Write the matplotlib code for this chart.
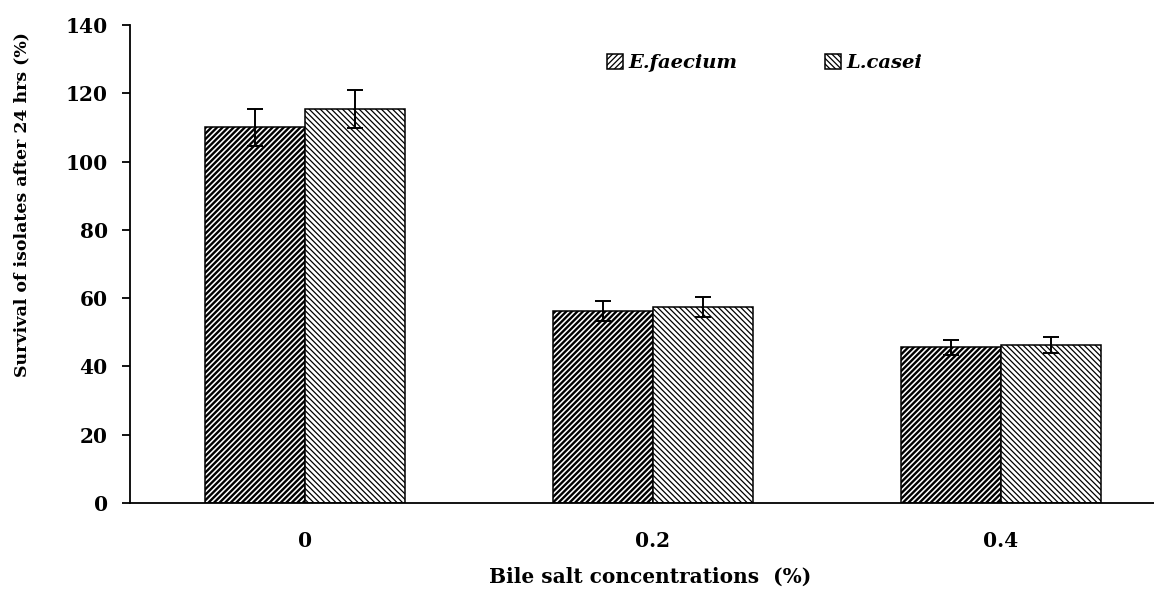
import matplotlib
matplotlib.use("Agg")
import matplotlib.pyplot as plt
import numpy as np

# bile salt tolerance data
concentrations = ["0", "0.2", "0.4"]
faecium_mean = [110.0, 56.2, 45.6]
faecium_err = [5.3, 3.0, 2.2]
casei_mean = [115.3, 57.4, 46.2]
casei_err = [5.6, 3.0, 2.3]

plt.rcParams['font.family'] = ['DejaVu Serif']
plt.rcParams['font.weight'] = 'bold'

fig = plt.figure(figsize=(11.54, 5.9), dpi=100)
ax = fig.add_axes([130/1154, 1 - 503/590, 1 - 130/1154, (503 - 25)/590])

x = np.arange(len(concentrations))
w = 0.287

plt.rcParams['hatch.linewidth'] = 1.7
b1 = ax.bar(x - w/2, faecium_mean, w, color='white', edgecolor='black',
            hatch='//////', linewidth=1.1, label='E.faecium')
plt.rcParams['hatch.linewidth'] = 0.9
b2 = ax.bar(x + w/2, casei_mean, w, color='white', edgecolor='black',
            hatch='\\\\\\\\\\\\', linewidth=1.1, label='L.casei')
for bars, lw in ((b1, 1.7), (b2, 0.9)):
    for p in bars:
        if hasattr(p, 'set_hatch_linewidth'):
            p.set_hatch_linewidth(lw)

ax.errorbar(x - w/2, faecium_mean, yerr=faecium_err, fmt='none',
            ecolor='black', elinewidth=1.4, capsize=5.5, capthick=1.4)
ax.errorbar(x + w/2, casei_mean, yerr=casei_err, fmt='none',
            ecolor='black', elinewidth=1.4, capsize=5.5, capthick=1.4)

ax.set_xlim(-0.503, 2.44)
ax.set_ylim(0, 140)
ax.set_yticks(np.arange(0, 141, 20))
ax.set_xticks(x)
ax.set_xticklabels(concentrations)

ax.spines['top'].set_visible(False)
ax.spines['right'].set_visible(False)
ax.spines['left'].set_linewidth(1.3)
ax.spines['bottom'].set_linewidth(1.3)
ax.tick_params(axis='y', direction='out', length=6, width=1.3, pad=10,
               labelsize=14.5)
ax.tick_params(axis='x', length=0, pad=20, labelsize=14.5)

ax.set_xlabel("Bile salt concentrations  (%)", fontsize=14.5, fontweight='bold',
              va='center')
ax.xaxis.set_label_coords((650 - 130)/1024, -(577 - 503)/478)
ax.set_ylabel("Survival of isolates after 24 hrs (%)", fontsize=12.5,
              fontweight='bold', va='center')
ax.yaxis.set_label_coords(-(130 - 22)/1024, (503 - 205)/478)

leg = ax.legend(loc='center', bbox_to_anchor=(0.62, 0.92), ncol=2,
                frameon=False, handlelength=0.8, handleheight=0.8,
                handletextpad=0.3, columnspacing=4.5,
                prop={'style': 'italic', 'weight': 'bold', 'size': 14})

fig.savefig("out.png", dpi=100)
